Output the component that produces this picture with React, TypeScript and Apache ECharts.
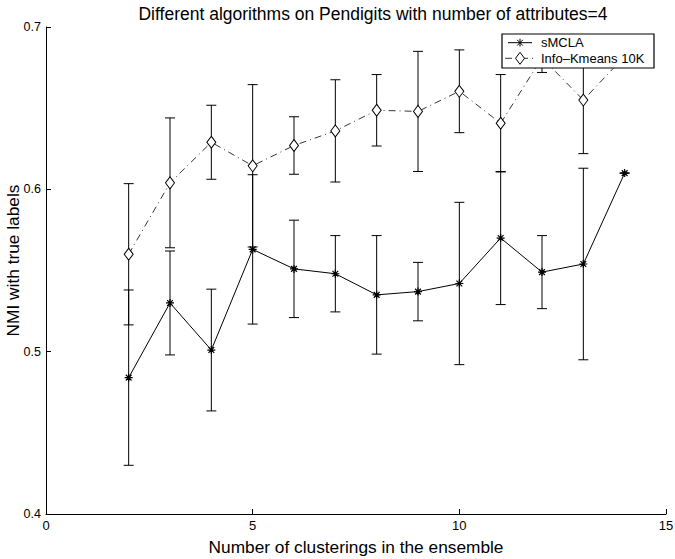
import React, { useEffect, useRef } from "react";
import * as echarts from "echarts";

// Ensemble sizes on the x axis
const clusterings = [2, 3, 4, 5, 6, 7, 8, 9, 10, 11, 12, 13, 14];

// sMCLA: mean NMI and half-width of its error bar
const smclaMean = [0.484, 0.530, 0.501, 0.563, 0.551, 0.548, 0.535, 0.537, 0.542, 0.570, 0.549, 0.554, 0.610];
const smclaErr = [0.054, 0.032, 0.0375, 0.046, 0.030, 0.0235, 0.0365, 0.018, 0.050, 0.041, 0.0225, 0.059, 0];

// Info-Kmeans 10K: mean NMI and half-width of its error bar
const infoMean = [0.560, 0.604, 0.629, 0.6145, 0.627, 0.636, 0.6487, 0.648, 0.6604, 0.6407, 0.681, 0.655, 0.682];
const infoErr = [0.0435, 0.040, 0.0228, 0.050, 0.0177, 0.0315, 0.022, 0.037, 0.0255, 0.030, 0.009, 0.033, 0.005];

const xTicks = { min: 0, max: 15, interval: 5 };
const yTicks = { min: 0.4, max: 0.7, interval: 0.1 };

const SMCLA = "sMCLA";
const INFO = "Info\u2013Kmeans 10K";

const FONT = "Liberation Sans, Arial, Helvetica, sans-serif";
const DASH_DOT = [7, 4, 1, 4];

// eight-armed asterisk marker
const STAR = "path://M0,-1L0,1M-1,0L1,0M-0.72,-0.72L0.72,0.72M-0.72,0.72L0.72,-0.72";

function errorBarSeries(mean: number[], err: number[]) {
  return {
    type: "custom",
    z: 1,
    silent: true,
    data: clusterings.map((x, i) => [x, mean[i] - err[i], mean[i] + err[i]]),
    encode: { x: 0, y: [1, 2] },
    renderItem: (_params: any, api: any) => {
      const x = api.value(0);
      const lo = api.coord([x, api.value(1)]);
      const hi = api.coord([x, api.value(2)]);
      const w = 5;
      const style = { stroke: "#000", lineWidth: 1 };
      return {
        type: "group",
        children: [
          { type: "line", shape: { x1: lo[0], y1: lo[1], x2: hi[0], y2: hi[1] }, style },
          { type: "line", shape: { x1: lo[0] - w, y1: lo[1], x2: lo[0] + w, y2: lo[1] }, style },
          { type: "line", shape: { x1: hi[0] - w, y1: hi[1], x2: hi[0] + w, y2: hi[1] }, style },
        ],
      };
    },
  };
}

// boxed legend in the upper right corner, drawn above the series
function legendBox() {
  const left = 502;
  const top = 34;
  const width = 152;
  const height = 34;
  const rows = [top + 8.7, top + 24.3];
  const sx0 = left + 6;
  const sx1 = left + 30;
  const mx = (sx0 + sx1) / 2;
  const r = 4;
  const black = { stroke: "#000", lineWidth: 1 };
  return {
    type: "group",
    z: 20,
    children: [
      {
        type: "rect",
        z: 20,
        shape: { x: left, y: top, width, height },
        style: { fill: "#fff", stroke: "#000", lineWidth: 1.2 },
      },
      { type: "line", z: 21, shape: { x1: sx0, y1: rows[0], x2: sx1, y2: rows[0] }, style: black },
      { type: "line", z: 21, shape: { x1: mx, y1: rows[0] - r, x2: mx, y2: rows[0] + r }, style: black },
      { type: "line", z: 21, shape: { x1: mx - r * 0.72, y1: rows[0] - r * 0.72, x2: mx + r * 0.72, y2: rows[0] + r * 0.72 }, style: black },
      { type: "line", z: 21, shape: { x1: mx - r * 0.72, y1: rows[0] + r * 0.72, x2: mx + r * 0.72, y2: rows[0] - r * 0.72 }, style: black },
      {
        type: "text",
        z: 21,
        x: left + 39,
        y: rows[0],
        style: { text: SMCLA, fill: "#000", font: `13px ${FONT}`, verticalAlign: "middle" },
      },
      {
        type: "line",
        z: 21,
        shape: { x1: sx0 - 3, y1: rows[1], x2: sx1 + 3, y2: rows[1] },
        style: { stroke: "#000", lineWidth: 0.8, lineDash: DASH_DOT },
      },
      {
        type: "polygon",
        z: 22,
        shape: { points: [[mx, rows[1] - 6], [mx + 4.5, rows[1]], [mx, rows[1] + 6], [mx - 4.5, rows[1]]] },
        style: { fill: "#fff", stroke: "#000", lineWidth: 1 },
      },
      {
        type: "text",
        z: 21,
        x: left + 39,
        y: rows[1],
        style: { text: INFO, fill: "#000", font: `13px ${FONT}`, verticalAlign: "middle" },
      },
    ],
  };
}

export default function App() {
  const ref = useRef<HTMLDivElement>(null);

  useEffect(() => {
    if (!ref.current) return;
    const chart = echarts.init(ref.current, undefined, { renderer: "svg" });
    chart.setOption({
      animation: false,
      backgroundColor: "#fff",
      textStyle: { fontFamily: FONT, color: "#000" },
      title: {
        text: "Different algorithms on Pendigits with number of attributes=4",
        left: 368,
        textAlign: "center",
        top: 0,
        textStyle: { fontFamily: FONT, fontSize: 17.5, fontWeight: "normal", color: "#000" },
      },
      grid: { left: 46, right: 9, top: 27, bottom: 45, containLabel: false, outerBoundsMode: "none" },
      graphic: [legendBox()],
      xAxis: {
        type: "value",
        ...xTicks,
        name: "Number of clusterings in the ensemble",
        nameLocation: "middle",
        nameGap: 24,
        nameMoveOverlap: false,
        nameTextStyle: { fontFamily: FONT, fontSize: 17.3, color: "#000" },
        axisLine: { lineStyle: { color: "#000", width: 1 } },
        axisTick: { inside: true, length: 5, lineStyle: { color: "#000" } },
        axisLabel: { fontFamily: FONT, fontSize: 13, color: "#000", margin: 5 },
        splitLine: { show: false },
      },
      yAxis: {
        type: "value",
        ...yTicks,
        name: "NMI with true labels",
        nameLocation: "middle",
        nameGap: 25,
        nameMoveOverlap: false,
        nameTextStyle: { fontFamily: FONT, fontSize: 17.3, color: "#000", padding: [0, 0, 0, 20] },
        axisLine: { show: true, lineStyle: { color: "#000", width: 1 } },
        axisTick: { show: true, inside: true, length: 5, lineStyle: { color: "#000" } },
        axisLabel: { fontFamily: FONT, fontSize: 12.5, color: "#000", margin: 5, formatter: (v: number) => v.toFixed(1) },
        splitLine: { show: false },
      },
      series: [
        errorBarSeries(smclaMean, smclaErr),
        errorBarSeries(infoMean, infoErr),
        {
          name: SMCLA,
          type: "line",
          z: 3,
          data: clusterings.map((x, i) => [x, smclaMean[i]]),
          symbol: STAR,
          symbolSize: 8,
          showAllSymbol: true,
          lineStyle: { color: "#000", width: 1 },
          itemStyle: { color: "#000", borderColor: "#000", borderWidth: 1.2 },
        },
        {
          name: INFO,
          type: "line",
          z: 3,
          data: clusterings.map((x, i) => [x, infoMean[i]]),
          symbol: "diamond",
          symbolSize: [9, 12],
          showAllSymbol: true,
          lineStyle: { color: "#000", width: 0.8, type: DASH_DOT },
          itemStyle: { color: "#fff", borderColor: "#000", borderWidth: 1 },
        },
      ],
    });
    return () => chart.dispose();
  }, []);

  return (
    <div
      ref={ref}
      style={{ position: "fixed", left: 0, top: 0, width: 675, height: 559, background: "#fff" }}
    />
  );
}
